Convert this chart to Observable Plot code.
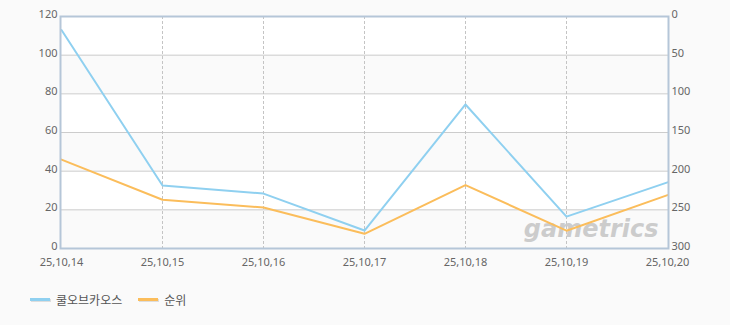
<!DOCTYPE html>
<html>
<head>
<meta charset="utf-8">
<script src="https://cdn.jsdelivr.net/npm/d3@7"></script>
<script src="https://cdn.jsdelivr.net/npm/@observablehq/plot@0.6"></script>
<style>
  html, body { margin: 0; padding: 0; background: #fafafa; }
  body { width: 730px; height: 325px; position: relative; overflow: hidden; font-family: "Noto Sans CJK KR", "Noto Sans", sans-serif; }
  #chart svg { display: block; background: transparent; }
  .legend { position: absolute; left: 30px; top: 291px; display: flex; align-items: center; font-size: 12px; color: #555; }
  .item { display: flex; align-items: center; margin-right: 16px; }
  .sw { width: 20px; height: 3px; margin-right: 6px; box-shadow: 1px 1px 0 #ddd; }
</style>
</head>
<body>
<div id="chart"></div>
<div class="legend">
  <div class="item"><span class="sw" style="background:#8fd0f0"></span><span>쿨오브카오스</span></div>
  <div class="item"><span class="sw" style="background:#fbbd5b"></span><span>순위</span></div>
</div>
<script>
const dates = ["25,10,14", "25,10,15", "25,10,16", "25,10,17", "25,10,18", "25,10,19", "25,10,20"];
const coolValues = [113, 32.6, 28.4, 9.3, 74.5, 16.5, 34.2];
const rankValues = [185, 237, 247, 281, 218, 277, 231];
const leftTicks = [0, 20, 40, 60, 80, 100, 120];
const rankMax = 300;
const leftMax = 120;

const toLeft = r => leftMax - r * leftMax / rankMax;
const rows = dates.map((d, i) => ({date: d, cool: coolValues[i], rank: rankValues[i]}));
const bands = [[0, 20], [40, 60], [80, 100]];

const plot = Plot.plot({
  width: 730,
  height: 270,
  marginLeft: 60,
  marginRight: 62,
  marginTop: 16,
  marginBottom: 22,
  style: {fontSize: "11px", color: "#666", fontFamily: "'Noto Sans', 'DejaVu Sans', sans-serif", background: "transparent"},
  x: {type: "point", domain: dates, padding: 0, label: null},
  y: {domain: [0, leftMax], label: null},
  marks: [
    Plot.frame({fill: "#ffffff", stroke: "none"}),
    Plot.rect(bands, {y1: d => d[0], y2: d => d[1], fill: "#fafafa"}),
    Plot.ruleY(leftTicks.slice(1, -1), {stroke: "#cccccc", strokeWidth: 1}),
    Plot.ruleX(dates.slice(1, -1), {stroke: "#c4c4c4", strokeDasharray: "3,2"}),
    Plot.text(["gametrics"], {frameAnchor: "bottom-right", dx: -10, dy: -12, lineAnchor: "bottom", textAnchor: "end",
      fill: "#cccccc", fontSize: 24, fontWeight: "bold", fontStyle: "italic", fontFamily: "DejaVu Sans, sans-serif"}),
    Plot.line(rows, {x: "date", y: "cool", stroke: "#8fd0f0", strokeWidth: 2}),
    Plot.line(rows, {x: "date", y: d => toLeft(d.rank), stroke: "#fbbd5b", strokeWidth: 2}),
    Plot.frame({stroke: "#b5c6d8", strokeWidth: 2}),
    Plot.axisY({anchor: "left", ticks: leftTicks, tickSize: 0, tickPadding: 3, dy: -2, label: null, fill: "#666"}),
    Plot.axisY({anchor: "right", ticks: leftTicks, tickSize: 0, tickPadding: 3, dy: -2, label: null, fill: "#666",
      tickFormat: d => String(Math.round((leftMax - d) * rankMax / leftMax))}),
    Plot.axisX({tickSize: 0, tickPadding: 10, label: null, fill: "#666"})
  ]
});
document.getElementById("chart").appendChild(plot);
</script>
</body>
</html>
